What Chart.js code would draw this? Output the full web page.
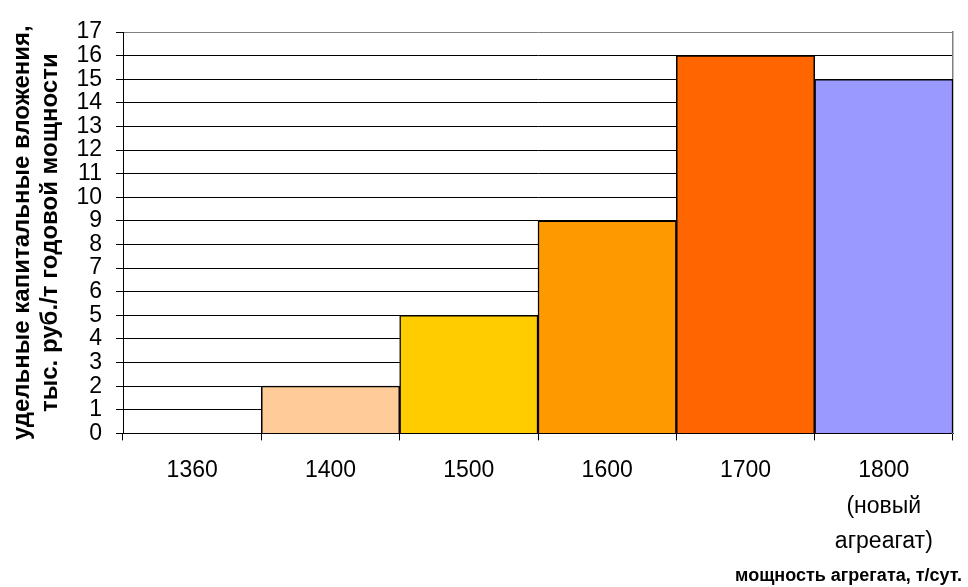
<!DOCTYPE html>
<html>
<head>
<meta charset="utf-8">
<script src="https://cdn.jsdelivr.net/npm/chart.js@4"></script>
<style>
  html, body { margin: 0; padding: 0; background: #fff; }
  #wrap { width: 968px; height: 587px; }
</style>
</head>
<body>
<div id="wrap"><canvas id="chart"></canvas></div>
<script>
// Chart data
const categories = ['1360', '1400', '1500', '1600', '1700', ['1800', '(новый', 'агреагат)']];
const investment = [0, 2, 5, 9, 16, 15];
const barColors = ['#FFCC99', '#FFCC99', '#FFCC00', '#FF9900', '#FF6600', '#9999FF'];
const yTitle = ['удельные капитальные вложения,', 'тыс. руб./т годовой мощности'];
const xTitle = 'мощность агрегата, т/сут.';

Chart.defaults.font.family = '"Liberation Sans", Arial, sans-serif';
Chart.defaults.color = '#000';

const ctx = document.getElementById('chart').getContext('2d');

new Chart(ctx, {
    type: 'bar',
    data: {
        labels: categories,
        datasets: [{
            data: investment,
            backgroundColor: barColors,
            borderColor: '#000',
            borderWidth: 1.5,
            categoryPercentage: 1,
            barPercentage: 1
        }]
    },
    options: {
        responsive: true,
        maintainAspectRatio: false,
        animation: false,
        layout: { padding: { top: 32, right: 6, left: 0, bottom: 0 } },
        plugins: {
            legend: { display: false },
            tooltip: { enabled: false },
            title: {
                display: true,
                text: xTitle,
                position: 'bottom',
                align: 'end',
                color: '#000',
                font: { size: 18, weight: 'bold' },
                padding: { top: 0, bottom: 0 }
            }
        },
        scales: {
            x: {
                offset: true,
                grid: {
                    display: true,
                    drawOnChartArea: false,
                    offset: true,
                    color: '#000',
                    tickLength: 7
                },
                border: { color: '#000', width: 1 },
                ticks: {
                    font: { size: 23, lineHeight: 1.54 },
                    padding: 13,
                    maxRotation: 0,
                    autoSkip: false
                },
                afterFit: function(scale) { scale.height = 132; }
            },
            y: {
                min: 0,
                max: 17,
                ticks: {
                    stepSize: 1,
                    autoSkip: false,
                    font: { size: 23, lineHeight: 1.0 },
                    padding: 14
                },
                grid: {
                    // top line of the plot frame is gray in the original
                    color: function(c) { return c.tick && c.tick.value === 17 ? '#808080' : '#000'; },
                    tickColor: '#000',
                    tickLength: 7,
                    lineWidth: 1
                },
                border: { color: '#000', width: 1 },
                title: {
                    display: true,
                    text: yTitle,
                    font: { size: 24, weight: 'bold', lineHeight: 1.17 },
                    padding: { top: 8, bottom: 0 }
                },
                afterFit: function(scale) { scale.width = 123; }
            },
            y2: {
                position: 'right',
                min: 0,
                max: 17,
                grid: { display: false },
                ticks: { display: false },
                border: { display: true, color: '#808080', width: 1.5 },
                afterFit: function(scale) { scale.width = 9; }
            }
        }
    }
});
</script>
</body>
</html>
